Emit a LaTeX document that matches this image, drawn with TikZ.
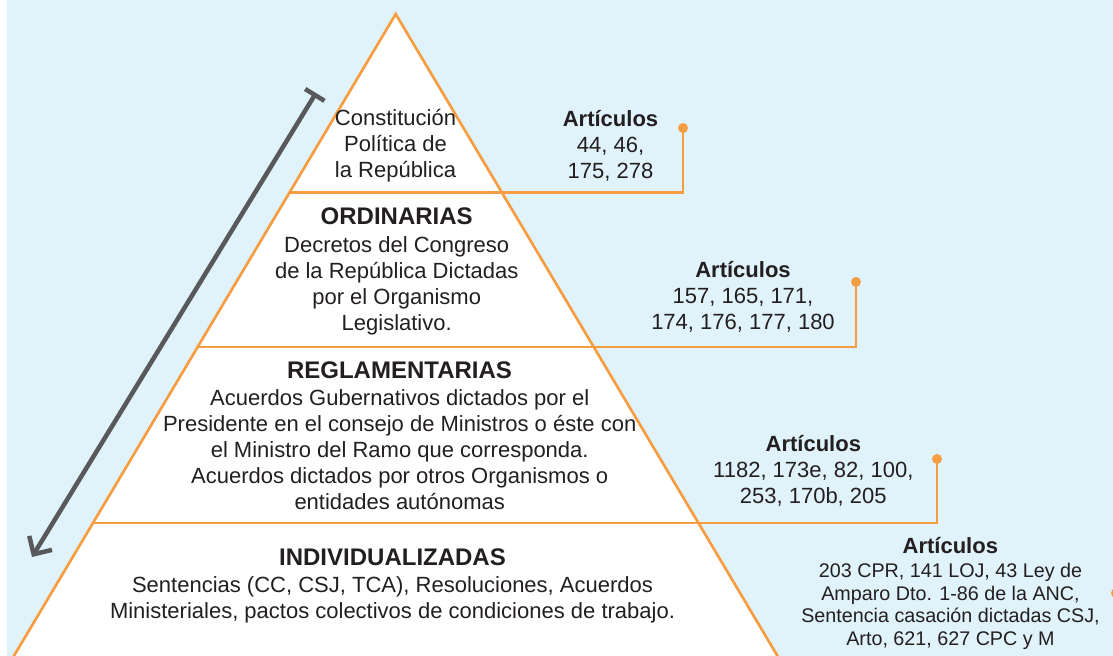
\documentclass[tikz,border=0pt]{standalone}
\usepackage{fontspec}
\setmainfont{Liberation Sans}
\usetikzlibrary{arrows.meta}
\definecolor{bgblue}{RGB}{224,242,250}
\definecolor{orng}{RGB}{246,157,66}
\definecolor{arrgray}{RGB}{88,89,91}
\definecolor{txt}{RGB}{35,31,32}
\begin{document}
\begin{tikzpicture}[x=0.75pt,y=-0.75pt,
  body/.style={align=center, text=txt, inner sep=0pt, font=\fontsize{16.5}{19.5}\selectfont},
  ttl/.style={text=txt, inner sep=0pt, font=\bfseries\fontsize{18}{20}\selectfont},
  small/.style={align=center, text=txt, inner sep=0pt, font=\fontsize{14.8}{16.9}\selectfont},
  conn/.style={draw=orng, line width=2pt},
  dotnode/.style={circle, fill=orng, inner sep=0pt, minimum size=7.5pt},
  levelarrow/.style={draw=arrgray, line width=3.4pt, {Bar[width=17pt]}-{Straight Barb[length=10pt,width=20pt]}}
]
\useasboundingbox (0,0) rectangle (1113,656);
\begin{scope}
\clip (0,0) rectangle (1113,656);
\fill[bgblue] (7,0) rectangle (1113,656);
% pyramid
\coordinate (apex) at (395.7,14);
\coordinate (bl) at (-12.3,700);
\coordinate (br) at (803.7,700);
\path[fill=white, draw=orng, line width=2pt, line join=miter] (apex) -- (bl) -- (br) -- cycle;
% connector start points on left edge
\coordinate (L1) at (289.5,192.5);
\coordinate (L2) at (197.7,347);
\coordinate (L3) at (93,523);
% dots
\node[dotnode] (D1) at (683,128) {};
\node[dotnode] (D2) at (856,282) {};
\node[dotnode] (D3) at (937,459) {};
\node[dotnode] (D4) at (1116,593) {};
\draw[conn] (L1) -| (D1.center);
\draw[conn] (L2) -| (D2.center);
\draw[conn] (L3) -| (D3.center);
% level texts
\node[body] (cpr) at (395.5,146) {Constitución\\Política de\\la República};
\node[ttl] (ordt) at (396.7,216.7) {ORDINARIAS};
\node[body] (ordb) at (396.7,285.6) {Decretos del Congreso\\de la República Dictadas\\por el Organismo\\Legislativo.};
\node[ttl] (regt) at (399.5,370) {REGLAMENTARIAS};
\node[body] (regb) at (399.7,449.5) {Acuerdos Gubernativos dictados por el\\Presidente en el consejo de Ministros o éste con\\el Ministro del Ramo que corresponda.\\Acuerdos dictados por otros Organismos o\\entidades autónomas};
\node[ttl] (indt) at (392.5,557.5) {INDIVIDUALIZADAS};
\node[body] (indb) at (392.5,600) {Sentencias (CC, CSJ, TCA), Resoluciones, Acuerdos\\Ministeriales, pactos colectivos de condiciones de trabajo.};
% article labels
\node[body] (a1) at (610.5,146) {\textbf{Artículos}\\44, 46,\\175, 278};
\node[body] (a2) at (743,297) {\textbf{Artículos}\\157, 165, 171,\\174, 176, 177, 180};
\node[body] (a3) at (813.3,471) {\textbf{Artículos}\\1182, 173e, 82, 100,\\253, 170b, 205};
\node[body, font=\bfseries\fontsize{16.5}{19.5}\selectfont] (a4t) at (950.3,546) {Artículos};
\node[small] (a4b) at (950.5,606.6) {203 CPR, 141 LOJ, 43 Ley de\\Amparo Dto. 1-86 de la ANC,\\Sentencia casación dictadas CSJ,\\Arto, 621, 627 CPC y M};
% hierarchy arrow
\coordinate (arrtop) at (316,93);
\coordinate (arrbot) at (32,557);
\draw[levelarrow] (arrtop) -- (arrbot);
\end{scope}
\end{tikzpicture}
\end{document}
